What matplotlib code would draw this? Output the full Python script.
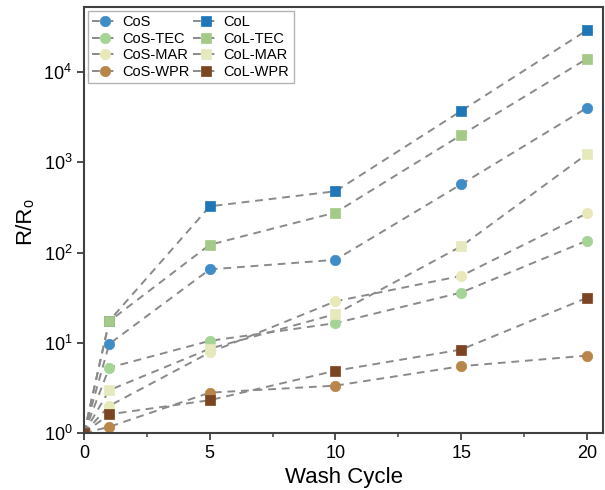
import matplotlib
matplotlib.use("Agg")
import matplotlib.pyplot as plt
from matplotlib.ticker import MultipleLocator, LogLocator, NullLocator

plt.rcParams['font.family'] = ['Liberation Sans', 'DejaVu Sans']

cycles = [0, 1, 5, 10, 15, 20]
labels = ["CoS", "CoS-TEC", "CoS-MAR", "CoS-WPR", "CoL", "CoL-TEC", "CoL-MAR", "CoL-WPR"]
cos = [1, 9.7, 65, 83, 570, 4000]
cos_tec = [1, 5.3, 10.5, 16.5, 36, 135]
cos_mar = [1, 2.0, 7.8, 28.8, 55, 271]
cos_wpr = [1, 1.17, 2.8, 3.35, 5.5, 7.2]
col = [1, 17.5, 325, 477, 3700, 29000]
col_tec = [1, 17.3, 122, 277, 2000, 14000]
col_mar = [1, 2.98, 8.6, 20.8, 117, 1230]
col_wpr = [1, 1.61, 2.31, 4.9, 8.4, 31.4]
series = [cos, cos_tec, cos_mar, cos_wpr, col, col_tec, col_mar, col_wpr]
colors = ["#3f8dc6", "#a6d396", "#e8e8b8", "#b8864a",
          "#1f76b8", "#a5c987", "#e6e9bd", "#7a4520"]
markers = ["o", "o", "o", "o", "s", "s", "s", "s"]

fig = plt.figure(figsize=(6.05, 4.9), dpi=100)
ax = fig.add_axes([0.139, 0.1163, 0.858, 0.8694])

for lab, y, c, m in zip(labels, series, colors, markers):
    ax.plot(cycles, y, linestyle=(0, (4, 3)), color="#8a8a8a", lw=1.4,
            marker=m, markersize=7.5 if m == "o" else 6.8,
            markerfacecolor=c, markeredgecolor=c, markeredgewidth=0.5,
            label=lab)

ax.set_yscale("log")
ax.set_xlim(0, 20.65)
ax.set_ylim(1, 10 ** 4.72)
ax.xaxis.set_major_locator(MultipleLocator(5))
ax.xaxis.set_minor_locator(MultipleLocator(2.5))
ax.yaxis.set_major_locator(LogLocator(base=10, numticks=10))
ax.yaxis.set_minor_locator(NullLocator())

for s in ax.spines.values():
    s.set_color("#404040")
    s.set_linewidth(1.5)
ax.tick_params(axis="both", which="major", direction="out", length=5, width=1.3,
               color="#404040", labelsize=13)
ax.tick_params(axis="x", which="minor", direction="out", length=3, width=1.1,
               color="#404040")

ax.set_xlabel("Wash Cycle", fontsize=16, labelpad=4)
ax.set_ylabel("R/R₀", fontsize=16, labelpad=6)

leg = ax.legend(ncol=2, loc="upper left", fontsize=10.5, frameon=True,
                fancybox=False, edgecolor="#a0a0a0", borderpad=0.3,
                handlelength=1.8, handletextpad=0.3, columnspacing=0.2,
                labelspacing=0.18, borderaxespad=0.25)
leg.get_frame().set_linewidth(1.0)

fig.savefig("out.png", dpi=100)
